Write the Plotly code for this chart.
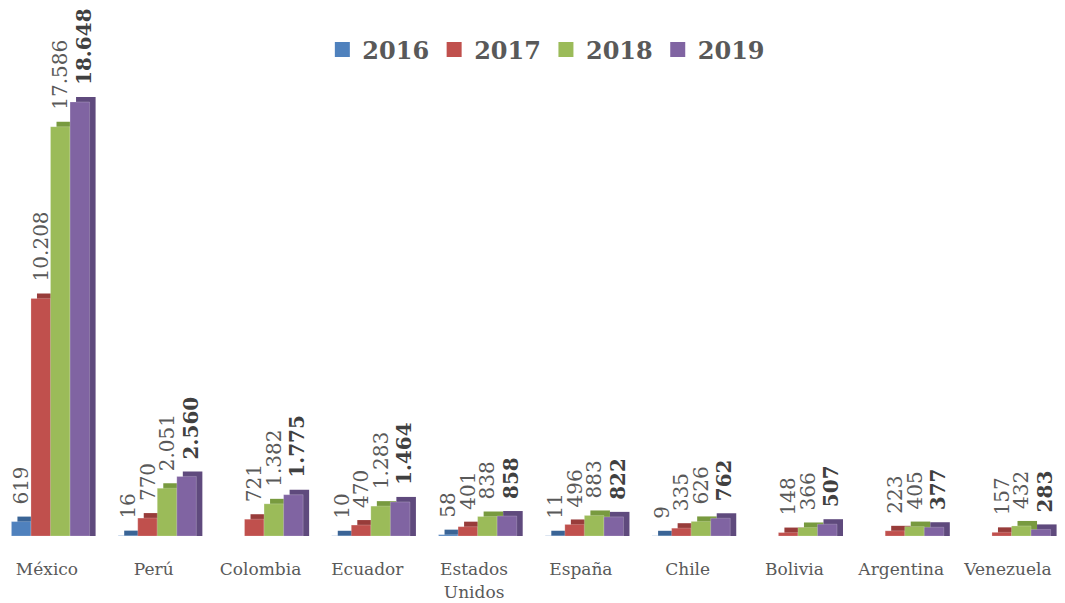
import plotly.graph_objects as go

categories = ["México", "Perú", "Colombia", "Ecuador", "Estados<br>Unidos",
              "España", "Chile", "Bolivia", "Argentina", "Venezuela"]
years = ["2016", "2017", "2018", "2019"]
v2016 = [619, 16, None, 10, 58, 11, 9, None, None, None]
v2017 = [10208, 770, 721, 470, 401, 496, 335, 148, 223, 157]
v2018 = [17586, 2051, 1382, 1283, 838, 883, 626, 366, 405, 432]
v2019 = [18648, 2560, 1775, 1464, 858, 822, 762, 507, 377, 283]
series = [v2016, v2017, v2018, v2019]

front_colors = ["#4F81BD", "#C0504D", "#9BBB59", "#8064A2"]
back_colors = ["#3A6496", "#983C3A", "#789A3F", "#5F4A7D"]

# layout geometry
W_PX, H_PX = 1065, 603
M_T, M_B = 20, 67
X0, X1 = -0.44, 9.534
YMAX = 22170
px_x = W_PX / (X1 - X0)
px_y = (H_PX - M_T - M_B) / YMAX

BAR_W = 0.183
OFFS = [-0.333, -0.150, 0.033, 0.216]
DX = 6 / px_x
DY = 5 / px_y
LABEL_PAD = 14 / px_y
LABEL_SHIFT = [0, 0, 0, 4 / px_x]

xs = list(range(len(categories)))
fig = go.Figure()

def fmt(v):
    return "" if v is None else f"{v:,}".replace(",", ".")

# back (depth) faces: top and right side of each box
for k, vals in enumerate(series):
    fig.add_trace(go.Bar(
        x=xs, y=[None if v is None else v + DY for v in vals],
        width=BAR_W, offset=OFFS[k] + DX,
        marker=dict(color=back_colors[k], line=dict(width=0)),
        showlegend=False, hoverinfo="skip"))

# front faces
for k, vals in enumerate(series):
    fig.add_trace(go.Bar(
        x=xs, y=vals, width=BAR_W, offset=OFFS[k], name=years[k],
        marker=dict(color=front_colors[k], line=dict(width=0.6, color="rgba(255,255,255,0.35)")),
        showlegend=False))

# labels
for k, vals in enumerate(series):
    bold = (k == 3)
    fig.add_trace(go.Bar(
        x=xs, y=[None if v is None else v + LABEL_PAD for v in vals],
        width=BAR_W, offset=OFFS[k] + LABEL_SHIFT[k],
        marker=dict(color="rgba(0,0,0,0)", line=dict(width=0)),
        text=[fmt(v) for v in vals], textposition="outside", textangle=-90,
        constraintext="none", cliponaxis=False,
        textfont=dict(family="DejaVu Serif", size=20,
                      color="#404040" if bold else "#595959",
                      weight="bold" if bold else "normal"),
        showlegend=False, hoverinfo="skip"))

# legend entries
for k in range(4):
    fig.add_trace(go.Scatter(
        x=[None], y=[None], mode="markers", name=years[k],
        marker=dict(symbol="square", size=15, color=front_colors[k]),
        showlegend=True))

fig.update_layout(
    width=W_PX, height=H_PX,
    barmode="overlay",
    plot_bgcolor="white", paper_bgcolor="white",
    margin=dict(l=0, r=0, t=M_T, b=M_B),
    font=dict(family="DejaVu Serif", color="#595959"),
    legend=dict(orientation="h", x=0.513, xanchor="center",
                y=(H_PX - M_B - 50) / (H_PX - M_T - M_B), yanchor="middle",
                font=dict(family="DejaVu Serif", size=24, color="#595959", weight="bold"),
                bgcolor="rgba(0,0,0,0)", traceorder="normal", itemwidth=30),
    xaxis=dict(range=[X0, X1], tickvals=xs, ticktext=categories,
               showgrid=False, zeroline=False, showline=False,
               ticks="outside", ticklen=18, tickcolor="rgba(0,0,0,0)",
               tickfont=dict(family="DejaVu Serif", size=17, color="#595959")),
    yaxis=dict(range=[0, YMAX], visible=False, showgrid=False, zeroline=False),
)

fig.write_html("out.html", config={"displayModeBar": False},
               post_script="document.body.style.margin='0px';")
